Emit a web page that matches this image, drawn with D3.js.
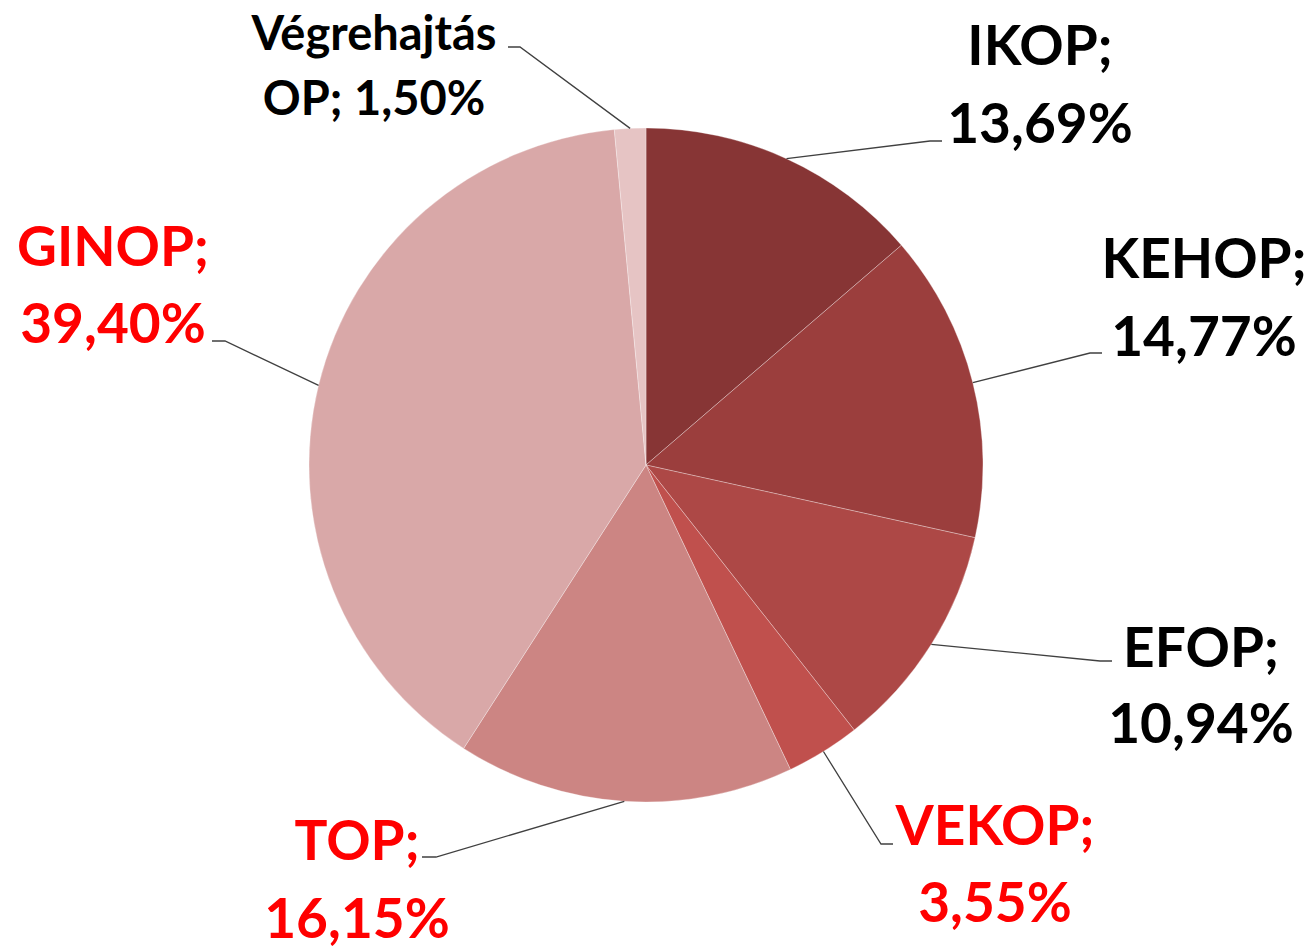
<!DOCTYPE html>
<html>
<head>
<meta charset="utf-8">
<script src="https://cdn.jsdelivr.net/npm/d3@7"></script>
<style>
  body { margin: 0; background: #fff; }
  text { font-family: Lato, "Open Sans", sans-serif; font-weight: bold; }
</style>
</head>
<body>
<svg width="1309" height="947"></svg>
<script>
// data
const programs = ["IKOP", "KEHOP", "EFOP", "VEKOP", "TOP", "GINOP", "Végrehajtás OP"];
const shares = [13.69, 14.77, 10.94, 3.55, 16.15, 39.40, 1.50];
const sliceColors = ["#873535", "#9b3e3d", "#ad4846", "#c0504d", "#cc8583", "#d9a8a8", "#e6c4c4"];
const labelColors = ["#000", "#000", "#000", "#f00", "#f00", "#f00", "#000"];

// label placement: two text lines (x, baseline y) and the elbow of the leader line
const labelLayout = [
  { lines: ["IKOP;", "13,69%"], x: 1040, y: [65, 143], size: 55, elbow: [930, 141], end: [942, 141] },
  { lines: ["KEHOP;", "14,77%"], x: 1204, y: [278, 356], size: 55, elbow: [1090, 353], end: [1102, 353] },
  { lines: ["EFOP;", "10,94%"], x: 1201, y: [667, 743], size: 55, elbow: [1100, 661], end: [1112, 661] },
  { lines: ["VEKOP;", "3,55%"], x: 995, y: [845, 922], size: 55, elbow: [881, 844], end: [893, 844] },
  { lines: ["TOP;", "16,15%"], x: 357, y: [860, 938], size: 55, elbow: [436, 857], end: [422, 857] },
  { lines: ["GINOP;", "39,40%"], x: 113, y: [266, 343], size: 55, elbow: [225, 341], end: [212, 341] },
  { lines: ["Végrehajtás", "OP; 1,50%"], x: 374, y: [50, 115], size: 47, elbow: [520, 47], end: [508, 47] }
];

const svg = d3.select("svg");
const cx = 646, cy = 465, radius = 337;

const pie = d3.pie().sort(null).value(d => d);
const arcs = pie(shares);
const arc = d3.arc().innerRadius(0).outerRadius(radius);

const g = svg.append("g").attr("transform", `translate(${cx},${cy})`);

g.selectAll("path.slice")
  .data(arcs)
  .enter()
  .append("path")
  .attr("class", "slice")
  .attr("d", arc)
  .attr("fill", (d, i) => sliceColors[i])
  .attr("stroke", "rgba(255,255,255,0.3)")
  .attr("stroke-width", 1);

// leader lines from the middle of each slice edge
const edge = d3.arc().innerRadius(radius).outerRadius(radius);
svg.append("g")
  .selectAll("polyline")
  .data(arcs)
  .enter()
  .append("polyline")
  .attr("points", (d, i) => {
    const p = edge.centroid(d);
    const L = labelLayout[i];
    return [[p[0] + cx, p[1] + cy], L.elbow, L.end].map(q => q.join(",")).join(" ");
  })
  .attr("fill", "none")
  .attr("stroke", "#404040")
  .attr("stroke-width", 1.3);

// labels
const labels = svg.append("g")
  .selectAll("text")
  .data(labelLayout)
  .enter()
  .append("text")
  .attr("text-anchor", "middle")
  .attr("font-size", d => d.size)
  .attr("fill", (d, i) => labelColors[i]);

labels.each(function (d) {
  d3.select(this).selectAll("tspan")
    .data(d.lines)
    .enter()
    .append("tspan")
    .attr("x", d.x)
    .attr("y", (t, j) => d.y[j])
    .text(t => t);
});
</script>
</body>
</html>
